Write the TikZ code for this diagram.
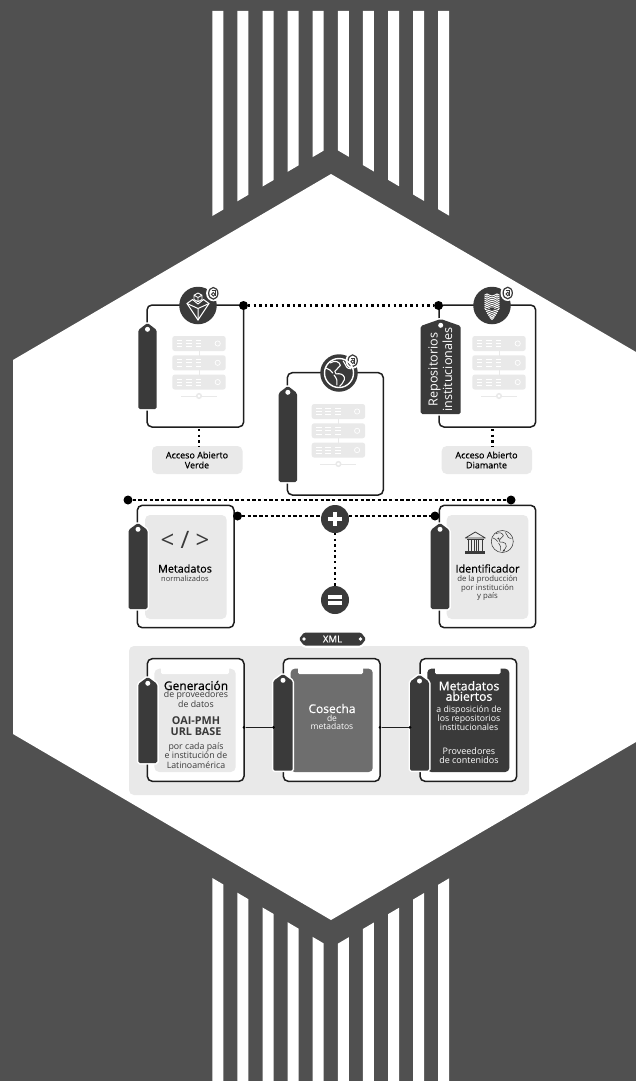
\documentclass[tikz,border=0pt]{standalone}
\usepackage{fontspec}
\setmainfont{Open Sans}
\newfontfamily\osemi[FakeBold=0.6]{Open Sans}
\usetikzlibrary{calc}
\definecolor{bgdark}{HTML}{505050}
\definecolor{tagdark}{HTML}{3A3A3A}
\definecolor{panelgray}{HTML}{E9E9E9}
\definecolor{midgray}{HTML}{6E6E6E}
\definecolor{inkline}{HTML}{1E1E1E}
\tikzset{
  boxbase/.style={inner sep=0pt,outer sep=0pt,rectangle},
  cardbox/.style={boxbase,draw=inkline,line width=1.5pt,rounded corners=5pt,fill=white},
  softbox/.style={boxbase,fill=panelgray,rounded corners=5pt},
  midbox/.style={boxbase,fill=midgray,rounded corners=4pt},
  darkbox/.style={boxbase,fill=tagdark,rounded corners=4pt},
  tagbox/.style={boxbase},
  knot/.style={circle,fill=black,inner sep=0pt,minimum size=9pt,outer sep=0pt},
  minidot/.style={circle,fill=black,inner sep=0pt,minimum size=3pt,outer sep=0pt},
  disc/.style={circle,fill=tagdark,inner sep=0pt,minimum size=37.5pt,outer sep=0pt},
  opdisc/.style={circle,fill=tagdark,inner sep=0pt,minimum size=28pt,outer sep=0pt},
  dotline/.style={draw=black,line width=2.4pt,dash pattern=on 2.4pt off 3.2pt},
  dashline/.style={draw=black,line width=1.8pt,dash pattern=on 3.4pt off 2.3pt},
  link/.style={draw=inkline,line width=1.3pt},
  txt/.style={inner sep=0pt,outer sep=0pt,align=center,text=#1},
  txt/.default=tagdark,
  iconw/.style={draw=white,line width=1pt,line join=round,line cap=round},
  icong/.style={draw=tagdark,line width=.55pt,line join=round,line cap=round},
}
\newcommand{\bx}[7][]{%
  \pgfmathsetmacro\bxw{#6-#4}\pgfmathsetmacro\bxh{#7-#5}%
  \pgfmathsetmacro\bxx{(#6+#4)/2}\pgfmathsetmacro\bxy{(#7+#5)/2}%
  \node[#2,minimum width=\bxw pt,minimum height=\bxh pt,#1] (#3) at (\bxx,\bxy) {};}
% tag shape: name x1 y1 x2 y2
\newcommand{\tagshape}[5]{%
  \pgfmathsetmacro\tgc{(#2+#4)/2}\pgfmathsetmacro\tgs{#3+7}%
  \bx{tagbox}{#1}{#2}{#3}{#4}{#5}%
  \draw[draw=white,line width=3pt,fill=tagdark,rounded corners=1.6pt]
    (#2,\tgs) -- (\tgc,#3) -- (#4,\tgs) -- (#4,#5) -- (#2,#5) -- cycle;
  \fill[tagdark,rounded corners=1.6pt]
    (#2,\tgs) -- (\tgc,#3) -- (#4,\tgs) -- (#4,#5) -- (#2,#5) -- cycle;
  \fill[white] (\tgc,#3+6.3) circle (2.5);}
% server icon: left x, top y
\newcommand{\servericon}[2]{%
  \begin{scope}[shift={(#1,#2)}]
    \fill[panelgray] (26.2,10) rectangle (27.2,50);
    \foreach \ry in {0,19.3,38.6}{%
      \fill[panelgray,rounded corners=2.5pt] (0,\ry) rectangle (53.4,\ry+15);
      \foreach \gx in {4.4,13.7,23.4}{%
        \foreach \ly in {4.3,7.5,10.7}{%
          \draw[white,line width=.8pt] (\gx,\ry+\ly) -- (\gx+5.6,\ry+\ly);}}
      \draw[white,line width=.7pt] (45.4,\ry+7.5) circle (2.6);}
    \draw[panelgray,line width=1pt] (8.7,60) -- (44.7,60);
    \draw[panelgray,line width=1.5pt,fill=white] (26.7,60) circle (2.3);
  \end{scope}}
% open access badge
\newcommand{\oabadge}[2]{%
  \begin{scope}[shift={(#1,#2)}]
    \fill[white] (0,0) ellipse (7.2 and 8);
    \draw[tagdark,line width=1.2pt] (0,0) ellipse (4.6 and 5.8);
    \draw[tagdark,line width=.9pt] (0,1) circle (1.8);
    \draw[tagdark,line width=.9pt] (-1.6,-2.5) -- (1.8,-2.5) -- (1.8,3);
  \end{scope}}
% continents
\newcommand{\continents}[2]{%
  \path[#2] (-.62,-.72) .. controls (-.3,-.95) and (.05,-.8) .. (.1,-.55) .. controls (-.1,-.4) and (-.15,-.2) .. (-.3,-.12) .. controls (-.35,.05) and (-.1,.15) .. (-.02,.05) .. controls (.25,.05) and (.45,.25) .. (.38,.48) .. controls (.3,.7) and (.15,.85) .. (.05,.95);
  \path[#2] (-.92,-.35) .. controls (-.7,-.3) and (-.55,-.15) .. (-.45,0);
  \path[#2] (.3,-.85) .. controls (.55,-.5) and (.5,-.3) .. (.85,-.3);
  \path[#2] (-.35,.15) .. controls (-.15,.4) and (-.1,.6) .. (-.15,.85);
}
\begin{document}
\begin{tikzpicture}[x=1pt,y=-1pt]
\useasboundingbox (0,0) rectangle (636,1081);
\fill[bgdark] (0,0) rectangle (636,1081);
% stripes
\foreach \i in {0,...,9}{%
  \pgfmathsetmacro\xa{212.3+25.1*\i}\pgfmathsetmacro\xb{\xa+11}%
  \pgfmathsetmacro\ua{216-(118.7-abs(\xa-331))*0.587}%
  \pgfmathsetmacro\ub{216-(118.7-abs(\xb-331))*0.587}%
  \pgfmathsetmacro\la{878+(118.7-abs(\xa-331))*0.587}%
  \pgfmathsetmacro\lb{878+(118.7-abs(\xb-331))*0.587}%
  \fill[white] (\xa,11) -- (\xb,11) -- (\xb,\ub) -- (\xa,\ua) -- cycle;
  \fill[white] (\xa,1081) -- (\xb,1081) -- (\xb,\lb) -- (\xa,\la) -- cycle;
}
% hexagon
\fill[white] (331,174) -- (636,352) -- (636,742) -- (331,920) -- (13,734) -- (13,360) -- cycle;

% ===== row 1 =====
\bx{cardbox}{card1}{147}{305}{243.7}{427}
\bx{cardbox}{card2}{287.3}{372.7}{383.3}{495}
\bx{cardbox}{card3}{439}{305}{535.7}{427}
\servericon{172.3}{336}
\servericon{311.7}{404}
\servericon{472.3}{336}
\tagshape{tag1}{138.3}{323}{156.7}{409}
\tagshape{tag2}{278.7}{386}{297}{482}
\tagshape{tag3}{420.7}{319}{460.7}{414}
\node[txt=white,rotate=90,font=\fontsize{12.6}{14.3}\selectfont] (reptxt) at (440.3,369.5) {Repositorios\\institucionales};
\node[disc] (ic1) at (198,305.5) {};
\node[disc] (ic2) at (339,373) {};
\node[disc] (ic3) at (492,305.5) {};
\oabadge{213.3}{293.3}
\oabadge{352.7}{360.7}
\oabadge{507.7}{293}
% cube icon
\begin{scope}[shift={(198,305.5)}]
  \draw[iconw,line width=.9pt] (0,-12.5) -- (4,-10.3) -- (4,-6) -- (0,-3.8) -- (-4,-6) -- (-4,-10.3) -- cycle (0,-8) -- (0,-3.8) (0,-8) -- (-4,-10.3) (0,-8) -- (4,-10.3);
  \draw[iconw] (-11,-2) -- (-5.5,-6) -- (0,-1.5) -- (5.5,-6) -- (11,-2) -- (0,14.5) -- cycle;
  \draw[iconw] (-11,-2) -- (0,3) -- (11,-2) (0,3) -- (0,14.5);
\end{scope}
% globe icon
\begin{scope}[shift={(339,373)}]
  \draw[iconw,line width=1.4pt] (0,0) circle (14.5);
  \begin{scope}[scale=14]
    \continents{0}{iconw,line width=1.1pt}
  \end{scope}
\end{scope}
% building icon
\begin{scope}[shift={(492,305.5)}]
  \foreach \vy in {-11.5,-9.6,-7.7,-5.8,-3.9,-2,-.1,1.8}{%
    \draw[white,line width=.95pt] (-7.5,\vy+1.2) -- (-5,\vy) -- (-2.5,\vy+1.2) -- (0,\vy+2) -- (2.5,\vy+1.2) -- (5,\vy) -- (7.5,\vy+1.2);}
  \foreach \vy/\vw in {3.8/7,5.8/6,7.8/5,9.8/3.6,11.8/2.2}{%
    \draw[white,line width=.95pt] (-\vw,\vy) -- (0,\vy+2.2) -- (\vw,\vy);}
  \fill[tagdark] (-2.6,3.2) -- (0,1.8) -- (2.6,3.2) -- (0,5) -- cycle;
\end{scope}
\node[knot] (k1) at (243.5,305.5) {};
\node[knot] (k2) at (438.5,305.5) {};
\draw[dotline] (k1) -- (k2);
\bx{softbox}{lab1}{152}{446}{242.5}{474}
\bx{softbox}{lab2}{441.7}{446}{532}{474}
\node[txt=black,font=\fontsize{9}{10}\osemi] (labt1) at (197,460) {Acceso Abierto\\Verde};
\node[txt=black,font=\fontsize{9}{10}\osemi] (labt2) at (486.5,460) {Acceso Abierto\\Diamante};
\coordinate (v1a) at (199,429);
\coordinate (v1b) at (199,447);
\coordinate (v2a) at (492.3,429);
\coordinate (v2b) at (492.3,447);
\draw[dotline] (v1a) -- (v1b);
\draw[dotline] (v2a) -- (v2b);

% ===== row 2 =====
\node[knot] (k3) at (128,500) {};
\node[knot] (k4) at (511,500) {};
\draw[dashline] (k3) -- (k4);
\bx{cardbox}{card4}{137.3}{505.3}{234}{627.7}
\bx{cardbox}{card5}{439.3}{505.3}{535.7}{627.7}
\bx{softbox}{soft4}{145}{515}{226.7}{619}
\bx{softbox}{soft5}{446.7}{515}{528.3}{619}
\tagshape{tag4}{128.5}{523}{147.5}{609}
\tagshape{tag5}{430.7}{523}{449.3}{609}
\node[opdisc] (plus) at (335,519) {};
\node[opdisc] (minus) at (335,600) {};
\fill[white] (332.6,512.2) rectangle (337.4,525.8);
\fill[white] (328.2,516.6) rectangle (341.8,521.4);
\fill[white] (328,595) rectangle (342,598.8);
\fill[white] (328,601.2) rectangle (342,605);
\node[knot] (k5) at (237.5,516) {};
\node[knot] (k6) at (435,516) {};
\draw[dashline] (k5) -- (k5 -| plus.west);
\draw[dashline] (k6 -| plus.east) -- (k6);
\draw[dotline] (plus) -- (minus);
\node[txt,font=\fontsize{24}{24}\selectfont] (code) at (185,540) {< / >};
\node[txt=black,font=\fontsize{10.8}{11}\osemi] (met1) at (185,568.5) {Metadatos};
\node[txt,font=\fontsize{7.5}{8}\selectfont] (met2) at (185,579) {normalizados};
\node[txt=black,font=\fontsize{10.8}{11}\osemi] (idt1) at (487.5,568.5) {Identificador};
\node[txt,font=\fontsize{7.8}{8.7}\selectfont] (idt2) at (487.5,588) {de la producción\\por institución\\y país};
% bank icon
\begin{scope}[shift={(475.3,543)}]
  \draw[tagdark,line width=.8pt,line join=round] (-10,-5) -- (0,-11) -- (10,-5) -- cycle;
  \fill[tagdark] (-8.5,-4) rectangle (8.5,-2.8);
  \foreach \cx/\cw in {-7/1.6,-3.4/1.1,-.9/.8,.9/.8,3.4/1.1,7/1.6}{\fill[tagdark] (\cx-\cw/2,-2.8) rectangle (\cx+\cw/2,8);}
  \fill[tagdark] (-10,8) rectangle (10,11);
\end{scope}
% small globe
\begin{scope}[shift={(502.3,541.5)}]
  \draw[icong] (0,0) circle (11);
  \begin{scope}[scale=10.5]
    \continents{0}{icong}
  \end{scope}
  \fill[tagdark] (-4,-3) circle (1);
  \fill[tagdark] (1.5,9) circle (1);
\end{scope}

% ===== row 3 =====
\bx{softbox}{panel}{129}{646}{529}{795}
\draw[draw=white,line width=5pt,fill=white,rounded corners=3pt] (299,639) -- (304,632.5) -- (361,632.5) -- (366,639) -- (361,645.5) -- (304,645.5) -- cycle;
\bx{tagbox}{xmltag}{299}{632.5}{366}{645.5}
\fill[tagdark,rounded corners=1.5pt] (299,639) -- (304,632.5) -- (361,632.5) -- (366,639) -- (361,645.5) -- (304,645.5) -- cycle;
\fill[white] (304,639) circle (1.8);
\fill[white] (360.5,639) circle (1.8);
\node[txt=white,font=\fontsize{9.6}{10}\osemi] (xmltxt) at (332.5,639) {XML};
\bx{cardbox}{card6}{147.3}{658.7}{244}{781.3}
\bx{cardbox}{card7}{283.3}{658.7}{380}{781.3}
\bx{cardbox}{card8}{420}{658.7}{516.7}{781.3}
\bx{softbox}{in6}{154.3}{668.7}{235.7}{772}
\bx{midbox}{in7}{290.7}{668.7}{372.7}{772}
\bx{darkbox}{in8}{427.3}{668.7}{509.3}{772}
\fill[white,rounded corners=1.5pt] (161,666) rectangle (229,674);
\fill[white,rounded corners=1.5pt] (298,666) rectangle (363,674);
\fill[white,rounded corners=1.5pt] (435,666) rectangle (500.7,674);
\tagshape{tag6}{138.3}{677}{157.3}{763}
\tagshape{tag7}{273.3}{674}{292.7}{770.7}
\tagshape{tag8}{410}{674.7}{429}{770.7}
\node[minidot] (d1) at (244,727.3) {};
\node[minidot] (d2) at (273.5,727.3) {};
\node[minidot] (d3) at (380,727.3) {};
\node[minidot] (d4) at (410,727.3) {};
\draw[link] (d1) -- (d2);
\draw[link] (d3) -- (d4);
\node[txt=black,font=\fontsize{12}{12}\osemi] (g1) at (196,685.5) {Generación};
\node[txt,font=\fontsize{8.8}{7.2}\selectfont] (g2) at (196,699.5) {de proveedores\\de datos};
\node[txt,font=\fontsize{10.8}{11}\selectfont\bfseries] (g3) at (196,726.2) {OAI-PMH\\URL BASE};
\node[txt,font=\fontsize{8.8}{9.6}\selectfont] (g4) at (196,755.5) {por cada país\\e institución de\\Latinoamérica};
\node[txt=white,font=\fontsize{12}{12}\osemi] (c1) at (332,708.5) {Cosecha};
\node[txt=white,font=\fontsize{8.5}{7.4}\selectfont] (c2) at (332,722.3) {de\\metadatos};
\node[txt=white,font=\fontsize{12.2}{10.4}\osemi] (m1) at (469,691) {Metadatos\\abiertos};
\node[txt=white,font=\fontsize{8.7}{9.2}\selectfont] (m2) at (469,718) {a disposición de\\los repositorios\\institucionales};
\node[txt=white,font=\fontsize{9}{9.3}\selectfont] (m3) at (469,755.5) {Proveedores\\de contenidos};
\end{tikzpicture}
\end{document}
